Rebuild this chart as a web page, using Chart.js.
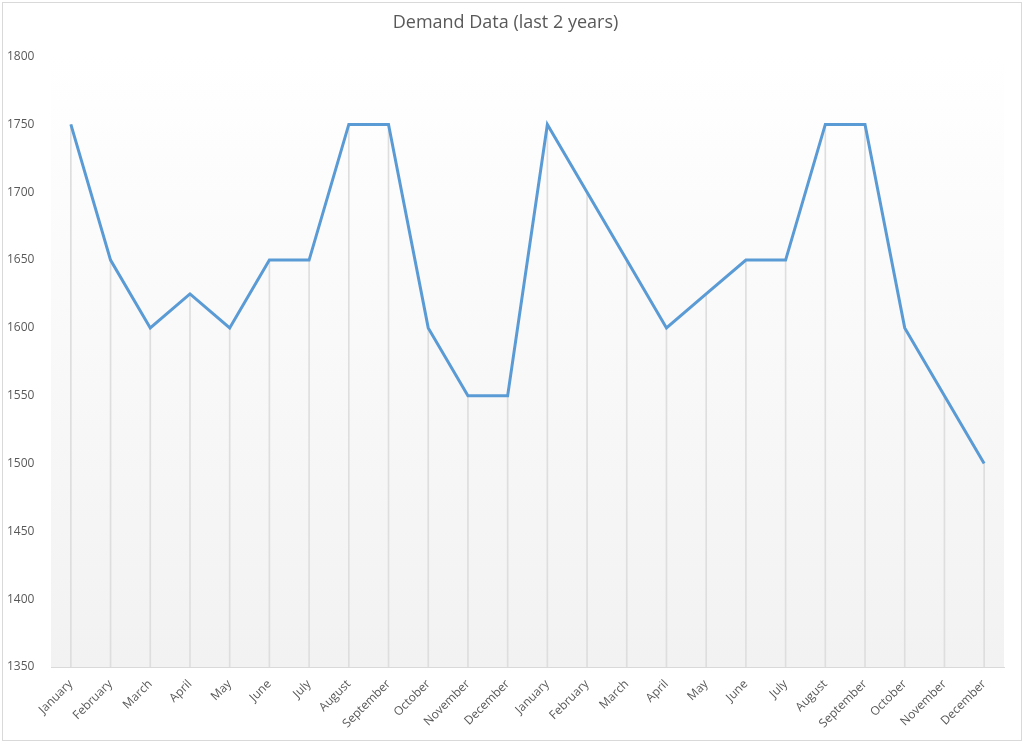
<!DOCTYPE html>
<html>
<head>
<meta charset="utf-8">
<script src="https://cdn.jsdelivr.net/npm/chart.js@4/dist/chart.umd.min.js"></script>
<style>
  body { margin: 0; background: #fff; }
  #wrap { position: absolute; left: 2px; top: 2px; width: 1018px; height: 737px; border: 1px solid #d9d9d9; }
</style>
</head>
<body>
<div id="wrap"><canvas id="chart1"></canvas></div>
<script>
var months = ['January','February','March','April','May','June','July','August','September','October','November','December',
  'January','February','March','April','May','June','July','August','September','October','November','December'];
var demand = [1750,1650,1600,1625,1600,1650,1650,1750,1750,1600,1550,1550,
  1750,1700,1650,1600,1625,1650,1650,1750,1750,1600,1550,1500];
var yMin = 1350, yMax = 1800, yStep = 50;

// gray gradient behind the plot area
var plotBg = {
  id: 'plotBg',
  beforeDraw(chart) {
    var a = chart.chartArea, ctx = chart.ctx;
    var g = ctx.createLinearGradient(0, a.top, 0, a.bottom);
    g.addColorStop(0, '#ffffff');
    g.addColorStop(1, '#f2f2f2');
    ctx.save();
    ctx.fillStyle = g;
    ctx.fillRect(a.left, a.top, a.right - a.left, a.bottom - a.top);
    ctx.restore();
  }
};

var labelFont = { family: 'Open Sans', size: 12 };

new Chart(document.getElementById('chart1'), {
  data: {
    labels: months,
    datasets: [
      {
        type: 'line',
        data: demand,
        borderColor: '#5b9bd5',
        borderWidth: 3,
        pointRadius: 0,
        tension: 0,
        fill: false,
        order: 0
      },
      {
        // drop lines from each point to the axis
        type: 'bar',
        data: demand,
        backgroundColor: '#dedede',
        barThickness: 1,
        order: 1
      }
    ]
  },
  options: {
    responsive: true,
    maintainAspectRatio: false,
    animation: false,
    layout: { padding: { left: 4, right: 17, top: 0, bottom: 0 } },
    plugins: {
      legend: { display: false },
      tooltip: { enabled: false },
      title: {
        display: true,
        text: 'Demand Data (last 2 years)',
        color: '#595959',
        font: { family: 'Open Sans', size: 18, weight: 'normal' },
        padding: { top: 9, bottom: 23 }
      }
    },
    scales: {
      x: {
        offset: true,
        grid: { display: false },
        border: { display: true, color: '#d9d9d9' },
        ticks: { color: '#595959', font: labelFont, minRotation: 45, maxRotation: 45, autoSkip: false, padding: 2 },
        afterFit(scale) { scale.height = 73; }
      },
      y: {
        min: yMin,
        max: yMax,
        grid: { display: false },
        border: { display: false },
        ticks: {
          stepSize: yStep, color: '#595959', font: labelFont, crossAlign: 'far',
          callback(v) { return String(v); }
        },
        afterFit(scale) { scale.width = 44; }
      }
    }
  },
  plugins: [plotBg]
});
</script>
</body>
</html>
